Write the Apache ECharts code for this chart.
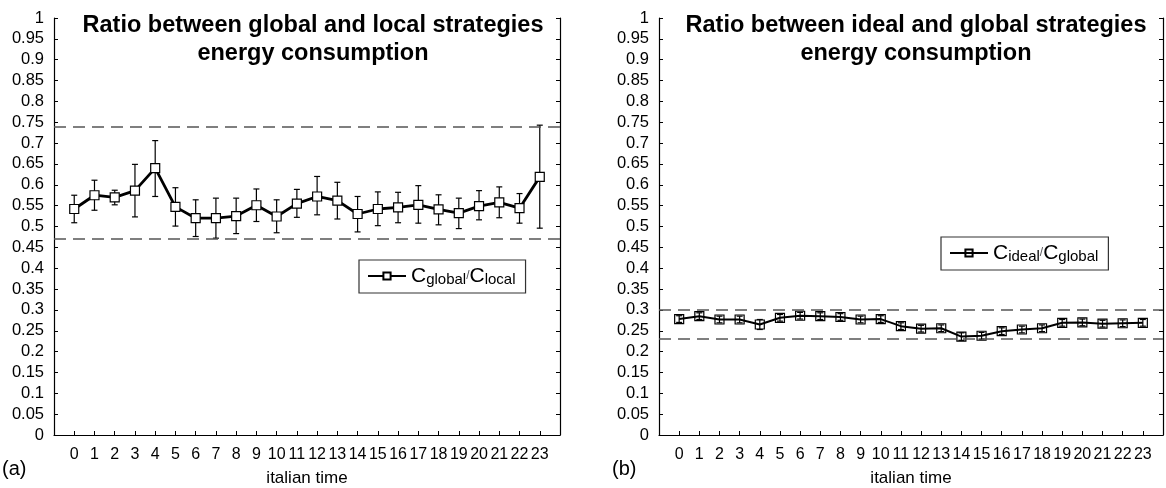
<!DOCTYPE html>
<html>
<head>
<meta charset="utf-8">
<script src="https://cdn.jsdelivr.net/npm/echarts@6/dist/echarts.min.js"></script>
<style>
html,body{margin:0;padding:0;background:#fff;}
#chart{width:1166px;height:488px;}
</style>
</head>
<body>
<div id="chart"></div>
<script>
// ---- data ----
const hours = [0,1,2,3,4,5,6,7,8,9,10,11,12,13,14,15,16,17,18,19,20,21,22,23];

const globalLocalMean  = [0.542,0.575,0.570,0.586,0.640,0.547,0.520,0.520,0.525,0.551,0.524,0.555,0.572,0.562,0.530,0.542,0.546,0.552,0.541,0.532,0.549,0.558,0.544,0.619];
const globalLocalUpper = [0.575,0.611,0.587,0.649,0.706,0.593,0.564,0.568,0.568,0.590,0.564,0.589,0.620,0.606,0.572,0.583,0.582,0.598,0.576,0.568,0.586,0.595,0.579,0.743];
const globalLocalLower = [0.509,0.539,0.552,0.523,0.572,0.501,0.476,0.472,0.483,0.512,0.485,0.522,0.528,0.518,0.487,0.502,0.509,0.508,0.504,0.495,0.516,0.521,0.508,0.496];
const globalLocalBounds = [0.745, 0.473];

const idealGlobalMean  = [0.278,0.285,0.277,0.277,0.265,0.281,0.286,0.285,0.283,0.277,0.278,0.261,0.255,0.256,0.236,0.238,0.249,0.253,0.256,0.269,0.270,0.267,0.268,0.269];
const idealGlobalUpper = [0.286,0.293,0.285,0.285,0.277,0.289,0.294,0.293,0.291,0.285,0.286,0.269,0.263,0.264,0.245,0.246,0.257,0.261,0.264,0.277,0.278,0.275,0.276,0.277];
const idealGlobalLower = [0.270,0.277,0.269,0.269,0.253,0.273,0.278,0.277,0.275,0.269,0.270,0.253,0.247,0.248,0.227,0.230,0.241,0.245,0.248,0.261,0.262,0.259,0.260,0.261];
const idealGlobalBounds = [0.300, 0.226];

const titleA = 'Ratio between global and local strategies\nenergy consumption';
const titleB = 'Ratio between ideal and global strategies\nenergy consumption';
const xName = 'italian time';

// ---- build ----
const FONT = 'Liberation Sans, Arial, Helvetica, sans-serif';
// category axis with one empty slot at each end (the axis runs from -1 to 24)
const xCats = ['-1'].concat(hours.map(String), ['24']);
const pairs = (m) => hours.map((h, i) => [String(h), m[i]]);
const errs = (lo, hi) => hours.map((h, i) => [String(h), lo[i], hi[i]]);

function errRender(capW) {
  return function (params, api) {
    const x = api.value(0);
    const pLo = api.coord([x, api.value(1)]);
    const pHi = api.coord([x, api.value(2)]);
    const st = { stroke: '#000', lineWidth: 1.2 };
    return {
      type: 'group',
      children: [
        { type: 'line', shape: { x1: pLo[0], y1: pLo[1], x2: pHi[0], y2: pHi[1] }, style: st },
        { type: 'line', shape: { x1: pLo[0] - capW, y1: pLo[1], x2: pLo[0] + capW, y2: pLo[1] }, style: st },
        { type: 'line', shape: { x1: pHi[0] - capW, y1: pHi[1], x2: pHi[0] + capW, y2: pHi[1] }, style: st }
      ]
    };
  };
}

function xAxis(gi) {
  return {
    type: 'category', gridIndex: gi, data: xCats, boundaryGap: false,
    name: xName, nameLocation: 'middle', nameGap: 35,
    nameTextStyle: { color: '#000', fontSize: 17, fontFamily: FONT },
    axisLine: { show: true, onZero: false, lineStyle: { color: '#000', width: 1.2 } },
    axisTick: { show: true, inside: true, length: 4, interval: 0, lineStyle: { color: '#000' } },
    axisLabel: { color: '#000', fontSize: 16, fontFamily: FONT, margin: 12, interval: 0,
      formatter: v => (v === '-1' || v === '24') ? '' : v },
    splitLine: { show: false }
  };
}
function yAxis(gi, right) {
  return {
    type: 'value', gridIndex: gi, min: 0, max: 1, interval: 0.05,
    position: right ? 'right' : 'left',
    axisLine: { show: true, onZero: false, lineStyle: { color: '#000', width: 1.2 } },
    axisTick: { show: true, inside: true, length: 4, lineStyle: { color: '#000' } },
    axisLabel: { show: !right, color: '#000', fontSize: 16.5, fontFamily: FONT, margin: 10 },
    splitLine: { show: false }
  };
}
function bounds(vals) {
  return {
    silent: true, symbol: 'none', label: { show: false },
    lineStyle: { color: '#555', type: [12, 7], width: 1.5 },
    data: vals.map(v => ({ yAxis: v }))
  };
}
const legendRich = {
  b: { fontSize: 21, fontFamily: FONT, color: '#000', verticalAlign: 'bottom', lineHeight: 22 },
  s: { fontSize: 15, fontFamily: FONT, color: '#000', verticalAlign: 'bottom', lineHeight: 22 }
};
const titleStyle = { fontSize: 23.5, fontWeight: 'bold', fontFamily: FONT, color: '#000', lineHeight: 28, align: 'center' };

const option = {
  backgroundColor: '#fff',
  animation: false,
  title: [
    { text: titleA, left: 308, top: 7, textAlign: 'center', textStyle: titleStyle },
    { text: titleB, left: 911, top: 7, textAlign: 'center', textStyle: titleStyle }
  ],
  grid: [
    { left: 54, right: 606, top: 18, bottom: 53, containLabel: false, outerBoundsMode: 'none' },
    { left: 659, right: 3, top: 18, bottom: 53, containLabel: false, outerBoundsMode: 'none' }
  ],
  xAxis: [xAxis(0), xAxis(1)],
  yAxis: [yAxis(0, false), yAxis(0, true), yAxis(1, false), yAxis(1, true)],
  legend: [
    { data: ['Cglobal/Clocal'], left: 359, top: 260, orient: 'horizontal',
      borderColor: '#333', borderWidth: 1.2, padding: [6, 10, 6, 8],
      itemWidth: 38, itemHeight: 9, selectedMode: false,
      formatter: () => '{b|C}{s|global}/{b|C}{s|local}', textStyle: { rich: legendRich } },
    { data: ['Cideal/Cglobal'], left: 941, top: 237, orient: 'horizontal',
      borderColor: '#333', borderWidth: 1.2, padding: [6, 10, 6, 8],
      itemWidth: 38, itemHeight: 9, selectedMode: false,
      formatter: () => '{b|C}{s|ideal}/{b|C}{s|global}', textStyle: { rich: legendRich } }
  ],
  graphic: [
    { type: 'text', left: 2, top: 459, style: { text: '(a)', fontSize: 20, fontFamily: FONT, fill: '#000' } },
    { type: 'text', left: 612, top: 459, style: { text: '(b)', fontSize: 20, fontFamily: FONT, fill: '#000' } }
  ],
  series: [
    { name: 'errA', type: 'custom', xAxisIndex: 0, yAxisIndex: 0, z: 2,
      renderItem: errRender(3), encode: { x: 0, y: [1, 2] },
      data: errs(globalLocalLower, globalLocalUpper) },
    { name: 'Cglobal/Clocal', type: 'line', xAxisIndex: 0, yAxisIndex: 0, z: 3,
      data: pairs(globalLocalMean),
      symbol: 'rect', symbolSize: 9, showAllSymbol: true,
      lineStyle: { color: '#000', width: 2.8 },
      itemStyle: { color: '#fff', borderColor: '#000', borderWidth: 1.2 },
      markLine: bounds(globalLocalBounds) },
    { name: 'Cideal/Cglobal', type: 'line', xAxisIndex: 1, yAxisIndex: 2, z: 2,
      data: pairs(idealGlobalMean),
      symbol: 'rect', symbolSize: 9, showAllSymbol: true,
      lineStyle: { color: '#000', width: 2 },
      itemStyle: { color: 'rgba(255,255,255,0)', borderColor: '#000', borderWidth: 1.2 },
      markLine: bounds(idealGlobalBounds) },
    { name: 'errB', type: 'custom', xAxisIndex: 1, yAxisIndex: 2, z: 3,
      renderItem: errRender(3), encode: { x: 0, y: [1, 2] },
      data: errs(idealGlobalLower, idealGlobalUpper) }
  ]
};

const chart = echarts.init(document.getElementById('chart'), null, { renderer: 'canvas' });
chart.setOption(option);
</script>
</body>
</html>
